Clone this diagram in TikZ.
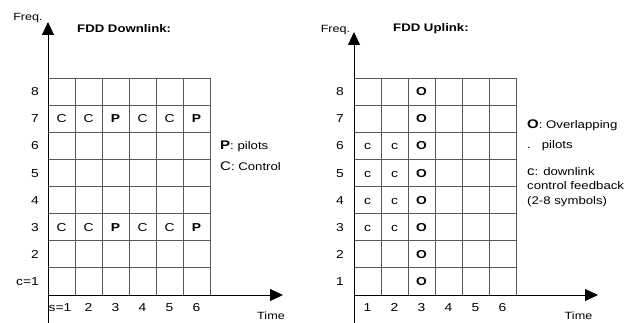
\documentclass[tikz,border=0pt]{standalone}
\usepackage{fontspec}
\setmainfont{Liberation Sans}[FakeStretch=1.2]
\usetikzlibrary{arrows.meta}
\begin{document}
\begin{tikzpicture}[x=1pt,y=-1pt,
  gridline/.style={draw=black!65,line width=0.9pt},
  axisline/.style={draw=black,line width=0.9pt},
  axisarrow/.style={axisline,-{Triangle[length=13pt,width=12pt]}},
  lab/.style={font=\fontsize{11.5}{11.5}\selectfont,inner sep=0pt,text height=8.2pt,text depth=0pt},
  cell/.style={lab},
  boldcell/.style={lab,font=\fontsize{11.5}{11.5}\selectfont\bfseries},
  axistext/.style={font=\fontsize{10.5}{10.5}\selectfont,inner sep=0pt},
  titletext/.style={font=\fontsize{11}{11}\selectfont\bfseries,inner sep=0pt,anchor=west},
  legend/.style={font=\fontsize{11}{14.5}\selectfont,inner sep=0pt,anchor=west,align=left},
]
\useasboundingbox (0,0) rectangle (626,323);

% ---------------- Left panel: FDD Downlink ----------------
\foreach \i in {1,...,6}
  \draw[gridline] ({48+27*\i},78) -- ({48+27*\i},295);
\foreach \j in {0,...,7}
  \draw[gridline] (48,{78+27.125*\j}) -- (210,{78+27.125*\j});
\coordinate (Lorig) at (48,295);
\coordinate (Lbot) at (48,323);
\coordinate (Ltop) at (48,22);
\coordinate (Lright) at (283,295);
\draw[axisarrow] (Lbot) -- (Ltop);
\draw[axisarrow] (Lorig) -- (Lright);

\node[axistext] (lfreq) at (28,18) {Freq.};
\node[titletext] (ltitle) at (77,29) {FDD Downlink:};
\node[axistext] (ltime) at (271,316) {Time};

\foreach \r in {2,...,8}
  \node[lab,anchor=east] (lrow\r) at (39,{295-27.125*(\r-0.5)}) {\r};
\node[lab,anchor=east] (lrow1) at (39,{295-27.125*0.5}) {c=1};

\node[lab] (lcol1) at (60,307) {s=1};
\foreach \k in {2,...,6}
  \node[lab] (lcol\k) at ({48+27*(\k-0.5)},307) {\k};

\foreach \r in {3,7}
  \foreach \k/\t/\s in {1/C/cell,2/C/cell,3/P/boldcell,4/C/cell,5/C/cell,6/P/boldcell}
    \node[\s] (dl-\r-\k) at ({48+27*(\k-0.5)},{295-27.125*(\r-0.5)}) {\t};

\node[legend] (legP) at (220,146) {{\fontsize{12.5}{12.5}\selectfont\bfseries P}: pilots};
\node[legend] (legC) at (220,166) {{\fontsize{12.5}{12.5}\selectfont C}: Control};

% ---------------- Right panel: FDD Uplink ----------------
\foreach \i in {1,...,6}
  \draw[gridline] ({354+27*\i},78) -- ({354+27*\i},295);
\foreach \j in {0,...,7}
  \draw[gridline] (354,{78+27.125*\j}) -- (516,{78+27.125*\j});
\coordinate (Rorig) at (354,295);
\coordinate (Rbot) at (354,323);
\coordinate (Rtop) at (354,32);
\coordinate (Rright) at (598,295);
\draw[axisarrow] (Rbot) -- (Rtop);
\draw[axisarrow] (Rorig) -- (Rright);

\node[axistext] (rfreq) at (335.5,30) {Freq.};
\node[titletext] (rtitle) at (393,29) {FDD Uplink:};
\node[axistext] (rtime) at (578.5,316) {Time};

\foreach \r in {1,...,8}
  \node[lab,anchor=east] (rrow\r) at (344,{295-27.125*(\r-0.5)}) {\r};
\foreach \k in {1,...,6}
  \node[lab] (rcol\k) at ({354+27*(\k-0.5)},307) {\k};

\foreach \r in {3,...,6}
  \foreach \k in {1,2}
    \node[cell] (ul-\r-\k) at ({354+27*(\k-0.5)},{295-27.125*(\r-0.5)}) {c};
\foreach \r in {1,...,8}
  \node[boldcell] (ul-\r-3) at ({354+27*2.5},{295-27.125*(\r-0.5)}) {O};

\node[legend] (legO) at (527,125) {{\fontsize{12.5}{12.5}\selectfont\bfseries O}: Overlapping};
\node[legend] (legO2) at (527,146) {.\hspace{11pt}pilots};
\node[legend] (legc) at (527,187) {{\fontsize{12.5}{12.5}\selectfont c}: downlink\\control feedback\\(2-8 symbols)};
\end{tikzpicture}
\end{document}
